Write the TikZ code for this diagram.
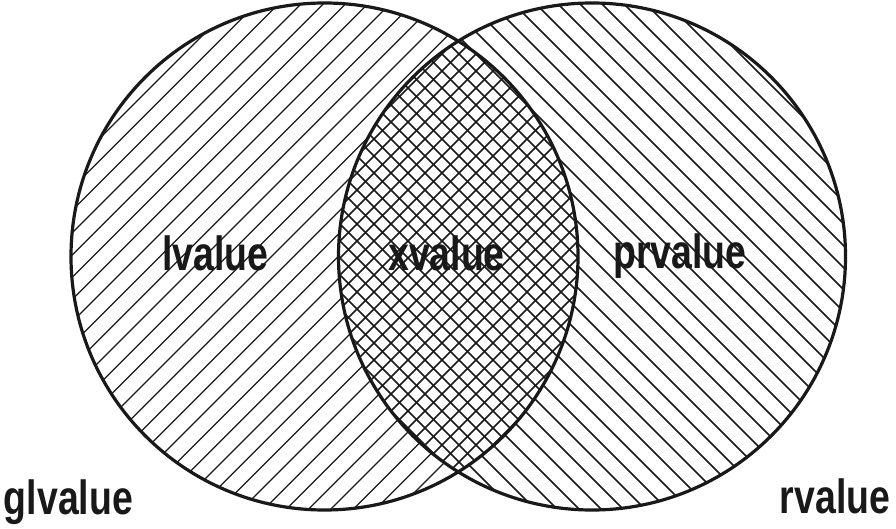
\documentclass[tikz,border=0pt]{standalone}
\usepackage{fontspec}
\newfontfamily\lblfont{Liberation Sans}[FakeStretch=0.78]
\begin{document}
\begin{tikzpicture}[x=1pt,y=-1pt,
  ring/.style={circle,draw=black!90,line width=3.2pt,minimum size=507pt,inner sep=0pt},
  hatchA/.style={line width=1.25pt,draw=black!90},
  hatchB/.style={line width=1.5pt,draw=black!90},
  crossh/.style={line width=1.6pt,draw=black!90},
  lbl/.style={font=\lblfont\bfseries\fontsize{48}{52}\selectfont,inner sep=0pt,anchor=base,text=black!90}]
\useasboundingbox (0,0) rectangle (896,529);
\coordinate (cL) at (324.5,256.5);
\coordinate (cR) at (592,256.5);
% left only region
\begin{scope}[even odd rule]
  \clip (cL) circle (253.5);
  \clip (-20,-20) rectangle (920,550) (cR) circle (253.5);
  \foreach \c in {-185.7,-163.4,...,1500}{\draw[hatchA] (\c+60,-60) -- (\c-600,600);}
\end{scope}
% right only region
\begin{scope}[even odd rule]
  \clip (cR) circle (253.5);
  \clip (-20,-20) rectangle (920,550) (cL) circle (253.5);
  \foreach \c in {-700,-678,...,900}{\draw[hatchB] (\c-60,-60) -- (\c+600,600);}
\end{scope}
% lens
\begin{scope}
  \clip (cL) circle (253.5);
  \clip (cR) circle (253.5);
  \foreach \c in {-150,-133,...,1500}{\draw[crossh] (\c+60,-60) -- (\c-600,600);}
  \foreach \c in {-700,-683,...,900}{\draw[crossh] (\c-60,-60) -- (\c+600,600);}
\end{scope}
\node[ring] (lring) at (cL) {};
\node[ring] (rring) at (cR) {};
\node[lbl] (lv) at (215.5,270) {lvalue};
\node[lbl] (xv) at (446.5,270) {xvalue};
\node[lbl] (prv) at (680,268) {prvalue};
\node[lbl] (glv) at (68.5,514) {glvalue};
\node[lbl] (rv) at (835,513) {rvalue};
\end{tikzpicture}
\end{document}
